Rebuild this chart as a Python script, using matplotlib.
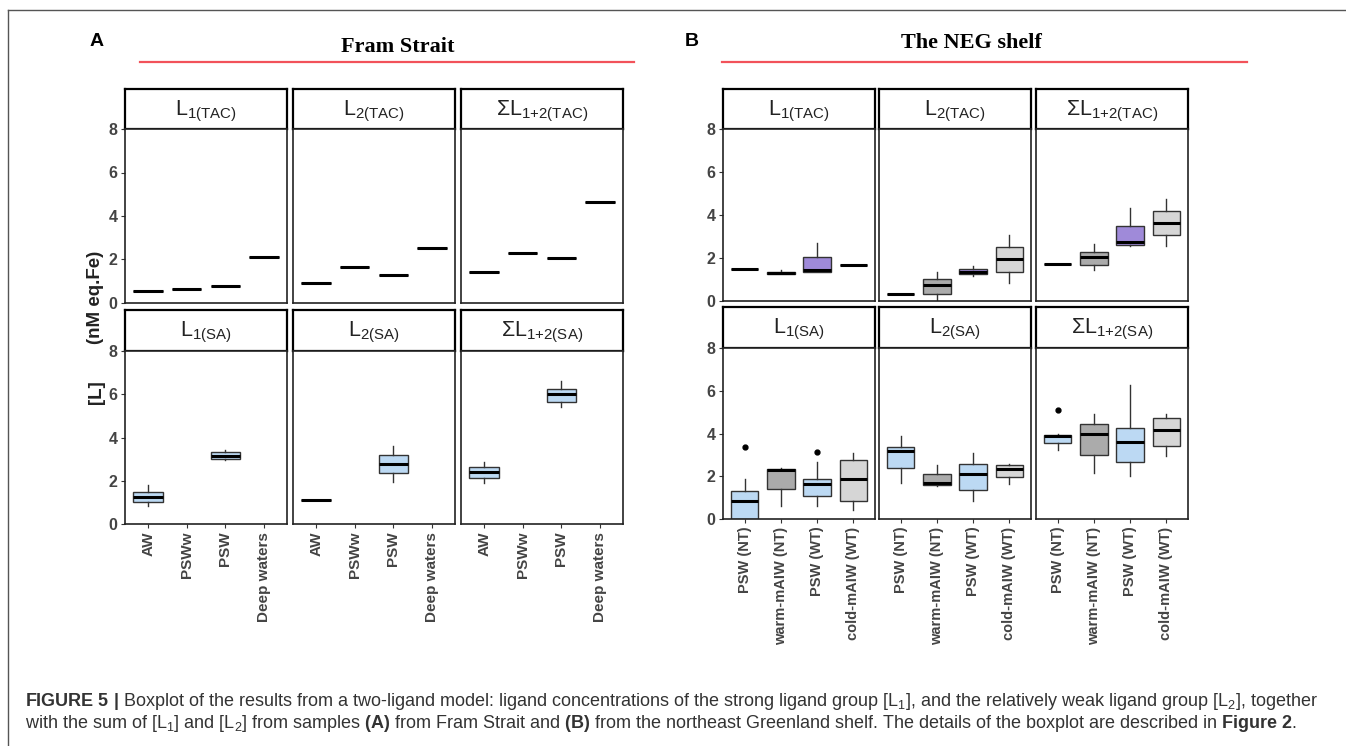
import matplotlib
matplotlib.use('Agg')
import matplotlib.pyplot as plt
from matplotlib.lines import Line2D

# categories
fram_cats = ['AW', 'PSWw', 'PSW', 'Deep waters']
neg_cats = ['PSW (NT)', 'warm-mAIW (NT)', 'PSW (WT)', 'cold-mAIW (WT)']

# box stats per category: (whislo, q1, median, q3, whishi), None = no data
fram_L1_tac = [(0.54,) * 5, (0.66,) * 5, (0.77,) * 5, (2.11,) * 5]
fram_L2_tac = [(0.94,) * 5, (1.66,) * 5, (1.31,) * 5, (2.55,) * 5]
fram_sum_tac = [(1.43,) * 5, (2.28,) * 5, (2.06,) * 5, (4.65,) * 5]
fram_L1_sa = [(0.81, 1.00, 1.27, 1.50, 1.81), None, (2.96, 3.01, 3.16, 3.32, 3.42), None]
fram_L2_sa = [(1.09,) * 5, None, (1.95, 2.35, 2.78, 3.19, 3.61), None]
fram_sum_sa = [(1.90, 2.12, 2.40, 2.64, 2.86), None, (5.39, 5.62, 5.99, 6.25, 6.60), None]

neg_L1_tac = [(1.48,) * 5, (1.25, 1.25, 1.30, 1.37, 1.45), (1.37, 1.37, 1.42, 2.04, 2.70), (1.68,) * 5]
neg_L2_tac = [(0.31,) * 5, (0.00, 0.33, 0.73, 1.01, 1.37), (1.14, 1.25, 1.34, 1.48, 1.61), (0.83, 1.37, 1.97, 2.50, 3.09)]
neg_sum_tac = [(1.73,) * 5, (1.45, 1.68, 2.03, 2.28, 2.65), (2.54, 2.62, 2.73, 3.48, 4.34), (2.54, 3.07, 3.63, 4.17, 4.73)]
neg_L1_sa = [(0.00, 0.00, 0.83, 1.29, 1.87), (0.59, 1.40, 2.28, 2.34, 2.37), (0.59, 1.06, 1.64, 1.87, 2.67), (0.41, 0.84, 1.89, 2.78, 3.09)]
neg_L2_sa = [(1.68, 2.37, 3.20, 3.37, 3.90), (1.53, 1.58, 1.68, 2.11, 2.53), (0.83, 1.34, 2.12, 2.57, 3.09), (1.62, 1.97, 2.34, 2.51, 2.57)]
neg_sum_sa = [(3.24, 3.57, 3.87, 3.93, 3.98), (2.15, 3.01, 3.99, 4.45, 4.91), (2.00, 2.67, 3.60, 4.27, 6.29), (2.93, 3.42, 4.18, 4.73, 4.91)]

# outliers
neg_L1_sa_out = [[3.39], [], [3.15], []]
neg_sum_sa_out = [[5.09], [], [], []]

BLUE = '#bcd9f3'
PURPLE = '#9f8ad9'
GRAY = '#ababab'
LGRAY = '#d6d6d6'
fram_colors = [BLUE, BLUE, BLUE, BLUE]
neg_top_colors = [LGRAY, GRAY, PURPLE, LGRAY]
neg_bot_colors = [BLUE, GRAY, BLUE, LGRAY]

W, H = 1346, 746
plt.rcParams['font.family'] = ['Liberation Sans', 'DejaVu Sans']
plt.rcParams['mathtext.fontset'] = 'custom'
plt.rcParams['mathtext.rm'] = 'Liberation Sans'
plt.rcParams['mathtext.it'] = 'Liberation Sans:italic'
plt.rcParams['mathtext.bf'] = 'Liberation Sans:bold'

fig = plt.figure(figsize=(W / 100, H / 100), dpi=100)


def px_axes(x0, y0, x1, y1):
    return fig.add_axes([x0 / W, 1 - y1 / H, (x1 - x0) / W, (y1 - y0) / H])


def draw_panel(x0, x1, ys, label, stats, colors, cats, show_y, show_x, outliers=None, xfs=11):
    strip = px_axes(x0, ys[0], x1, ys[1])
    strip.set_xticks([])
    strip.set_yticks([])
    for sp in strip.spines.values():
        sp.set_linewidth(1.6)
        sp.set_color('black')
    strip.text(0.5, 0.45, label, ha='center', va='center', fontsize=15.5,
               color='#222222', transform=strip.transAxes)

    ax = px_axes(x0, ys[1], x1, ys[2])
    boxes, pos, cols = [], [], []
    for i, s in enumerate(stats):
        if s is None:
            continue
        fl = outliers[i] if outliers else []
        boxes.append({'whislo': s[0], 'q1': s[1], 'med': s[2], 'q3': s[3], 'whishi': s[4], 'fliers': fl})
        pos.append(i + 1)
        cols.append(colors[i])
    bp = ax.bxp(boxes, positions=pos, widths=0.76, patch_artist=True, showcaps=False,
                boxprops=dict(edgecolor='#333333', linewidth=1.0),
                medianprops=dict(color='black', linewidth=2.2, solid_capstyle='butt'),
                whiskerprops=dict(color='#333333', linewidth=1.0),
                flierprops=dict(marker='o', markerfacecolor='black', markeredgecolor='black', markersize=3.5),
                manage_ticks=False)
    for patch, c in zip(bp['boxes'], cols):
        patch.set_facecolor(c)
    ax.set_xlim(0.4, 4.6)
    ax.set_ylim(0, 8)
    for sp in ax.spines.values():
        sp.set_linewidth(1.2)
        sp.set_color('#222222')
    ax.tick_params(length=3, width=0.8, color='#333333', labelcolor='#444444', pad=2.5)
    if show_y:
        ax.set_yticks([0, 2, 4, 6, 8])
        ax.set_yticklabels(['0', '2', '4', '6', '8'], fontweight='bold', fontsize=11.5)
    else:
        ax.set_yticks([])
    if show_x:
        ax.set_xticks(range(1, 5))
        ax.set_xticklabels(cats, rotation=90, fontweight='bold', fontsize=xfs, va='top', ha='center')
    else:
        ax.set_xticks([])
    return ax


lab_tac = [r'$\mathrm{L_{1(TAC)}}$', r'$\mathrm{L_{2(TAC)}}$', r'$\mathrm{ΣL_{1{+}2(TAC)}}$']
lab_sa = [r'$\mathrm{L_{1(SA)}}$', r'$\mathrm{L_{2(SA)}}$', r'$\mathrm{ΣL_{1{+}2(SA)}}$']

# Panel A - Fram Strait
colsA = [(125, 287), (293, 455), (461, 623)]
topA = (89, 129, 303)
botA = (310, 351, 524)
for j, st in enumerate([fram_L1_tac, fram_L2_tac, fram_sum_tac]):
    draw_panel(colsA[j][0], colsA[j][1], topA, lab_tac[j], st, fram_colors, fram_cats, j == 0, False)
for j, st in enumerate([fram_L1_sa, fram_L2_sa, fram_sum_sa]):
    draw_panel(colsA[j][0], colsA[j][1], botA, lab_sa[j], st, fram_colors, fram_cats, j == 0, True)

# Panel B - NEG shelf
colsB = [(723, 875), (879, 1031), (1036, 1188)]
topB = (89, 129, 301)
botB = (307, 348, 519)
for j, st in enumerate([neg_L1_tac, neg_L2_tac, neg_sum_tac]):
    draw_panel(colsB[j][0], colsB[j][1], topB, lab_tac[j], st, neg_top_colors, neg_cats, j == 0, False)
outs = [neg_L1_sa_out, None, neg_sum_sa_out]
for j, st in enumerate([neg_L1_sa, neg_L2_sa, neg_sum_sa]):
    draw_panel(colsB[j][0], colsB[j][1], botB, lab_sa[j], st, neg_bot_colors, neg_cats, j == 0, True,
               outs[j], xfs=10.5)

# y label
fig.text(96 / W, 1 - 297 / H, '(nM eq.Fe)', rotation=90, ha='center', va='center',
         fontsize=13.5, fontweight='bold', color='#222222')
fig.text(96 / W, 1 - 392 / H, '[L]', rotation=90, ha='center', va='center',
         fontsize=13.5, fontweight='bold', color='#222222')

# panel letters, titles and red rules
fig.text(97 / W, 1 - 41 / H, 'A', ha='center', va='center', fontsize=14, fontweight='bold')
fig.text(692 / W, 1 - 41 / H, 'B', ha='center', va='center', fontsize=14, fontweight='bold')
fig.text(398 / W, 1 - 47 / H, 'Fram Strait', ha='center', va='center', fontsize=16,
         fontweight='bold', family='Liberation Serif')
fig.text(971 / W, 1 - 43 / H, 'The NEG shelf', ha='center', va='center', fontsize=16,
         fontweight='bold', family='Liberation Serif')
fig.add_artist(Line2D([140 / W, 634 / W], [1 - 62 / H] * 2, color='#f2525a', lw=1.6))
fig.add_artist(Line2D([722 / W, 1247 / W], [1 - 62 / H] * 2, color='#f2525a', lw=1.6))

# outer frame
fig.add_artist(Line2D([8 / W, 8 / W], [1 - 10 / H, 0], color='#555555', lw=1.0))
fig.add_artist(Line2D([8 / W, 1], [1 - 10 / H] * 2, color='#555555', lw=1.0))

# caption
cap1 = (r'$\mathbf{FIGURE\ 5\ |}$ Boxplot of the results from a two-ligand model: ligand concentrations '
        r'of the strong ligand group [$\mathrm{L_1}$], and the relatively weak ligand group '
        r'[$\mathrm{L_2}$], together')
cap2 = (r'with the sum of [$\mathrm{L_1}$] and [$\mathrm{L_2}$] from samples $\mathbf{(A)}$ from Fram Strait '
        r'and $\mathbf{(B)}$ from the northeast Greenland shelf. The details of the boxplot are described in '
        r'$\mathbf{Figure\ 2}$.')
fig.text(25 / W, 1 - 701 / H, cap1, ha='left', va='center', fontsize=13, color='#333333')
fig.text(25 / W, 1 - 724 / H, cap2, ha='left', va='center', fontsize=13, color='#333333')

fig.savefig('out.png', dpi=100)
